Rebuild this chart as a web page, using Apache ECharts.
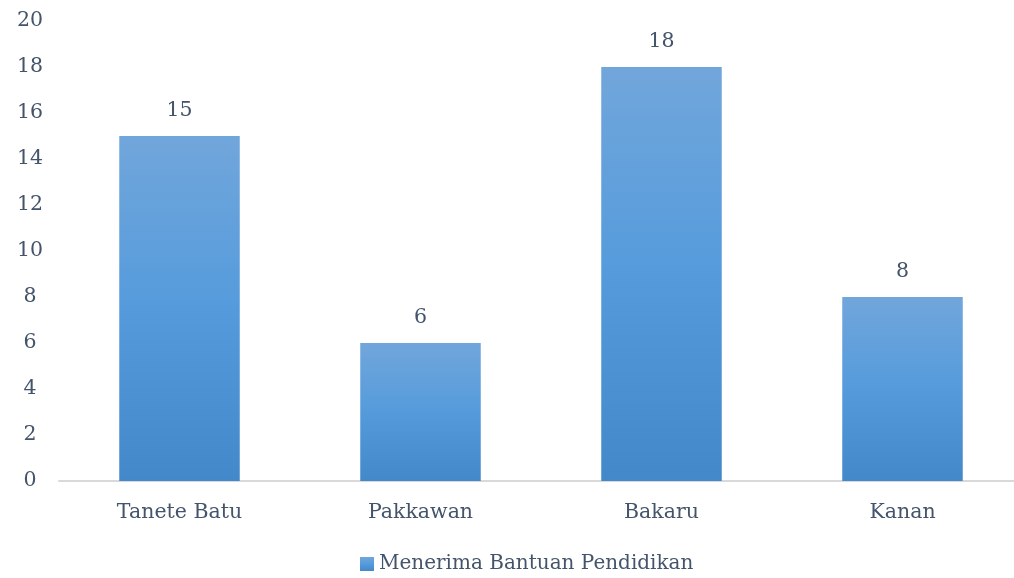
<!DOCTYPE html>
<html>
<head>
<meta charset="utf-8">
<script src="https://cdn.jsdelivr.net/npm/echarts@6/dist/echarts.min.js"></script>
<style>
  html, body { margin: 0; padding: 0; background: #fff; }
  #chart { width: 1014px; height: 578px; }
</style>
</head>
<body>
<div id="chart"></div>
<script>
const categories = ['Tanete Batu', 'Pakkawan', 'Bakaru', 'Kanan'];
const seriesName = 'Menerima Bantuan Pendidikan';
const values = [15, 6, 18, 8];

const textColor = '#44546a';
const fontFamily = '"DejaVu Serif", "Liberation Serif", serif';
const fontSize = 20.5;

const barGradient = new echarts.graphic.LinearGradient(0, 0, 0, 1, [
    {offset: 0, color: '#71a6db'},
    {offset: 0.5, color: '#559bdc'},
    {offset: 1, color: '#4388c8'}
]);

const chart = echarts.init(document.getElementById('chart'));
const option = {
    animation: false,
    textStyle: {fontFamily: fontFamily, color: textColor},
    grid: {left: 59, top: 21, width: 964, height: 460, containLabel: false, outerBoundsMode: 'none'},
    legend: {
        data: [seriesName],
        top: 549,
        left: 355,
        icon: 'rect',
        itemWidth: 14,
        itemHeight: 14,
        itemGap: 5,
        textStyle: {fontSize: 20, color: textColor, fontFamily: fontFamily}
    },
    xAxis: {
        type: 'category',
        data: categories,
        axisLine: {lineStyle: {color: '#d9d9d9', width: 2}},
        axisTick: {show: false},
        axisLabel: {fontSize: fontSize, color: textColor, fontFamily: fontFamily, margin: 21}
    },
    yAxis: {
        type: 'value',
        min: 0,
        max: 20,
        interval: 2,
        splitLine: {show: false},
        axisLine: {show: false},
        axisTick: {show: false},
        axisLabel: {fontSize: fontSize, color: textColor, fontFamily: fontFamily, margin: 29, align: 'center'}
    },
    series: [{
        name: seriesName,
        type: 'bar',
        data: values,
        barWidth: '50%',
        itemStyle: {color: barGradient},
        label: {
            show: true,
            position: 'top',
            distance: 15,
            fontSize: fontSize,
            color: textColor,
            fontFamily: fontFamily
        }
    }]
};
chart.setOption(option);
</script>
</body>
</html>
